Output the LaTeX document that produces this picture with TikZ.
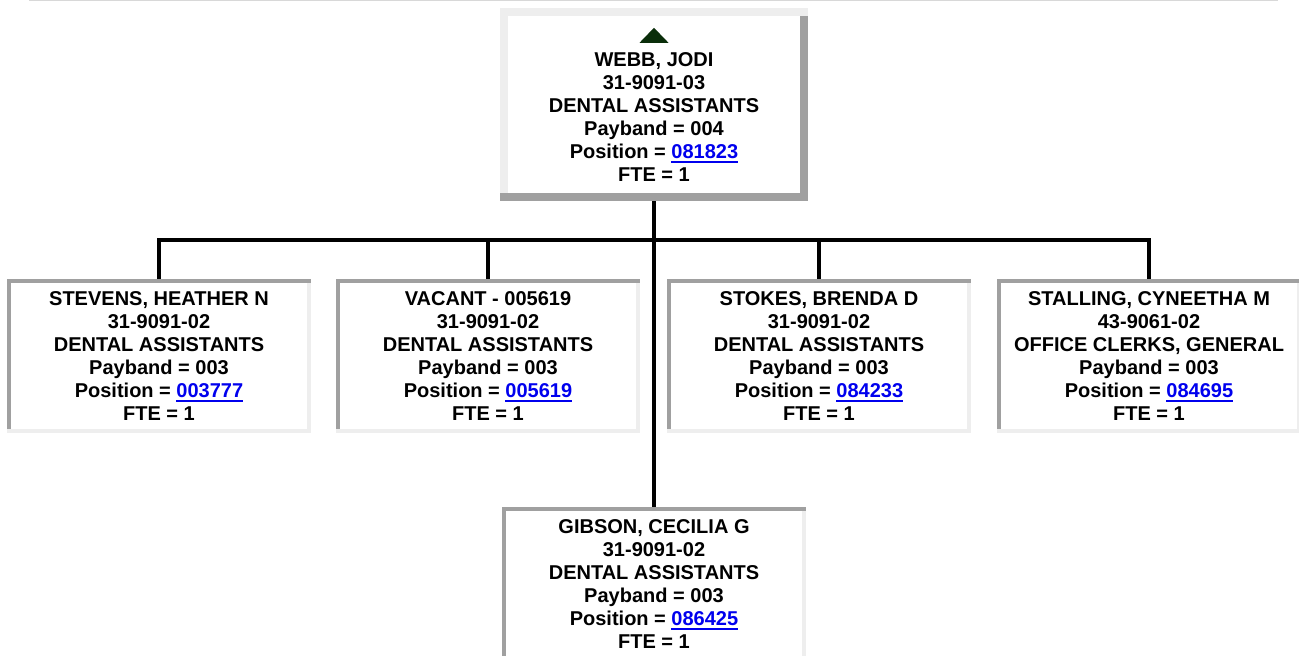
\documentclass[tikz,border=0pt]{standalone}
\usepackage{fontspec}
\setmainfont{Liberation Sans}
\usepackage{xcolor}
\definecolor{edgedark}{HTML}{A0A0A0}
\definecolor{edgelight}{HTML}{EEEEEE}
\definecolor{linkblue}{HTML}{0000EE}
\definecolor{upgreen}{HTML}{0A2E0A}

% position number as an underlined link
\newcommand\poslink[1]{{\color{linkblue}\setbox0\hbox{#1}\rlap{\rule[-4.6pt]{\wd0}{2pt}}\box0}}
% bevelled border: #1/#2 top-left colour and width, #3/#4 bottom-right colour and width
\newcommand\boxedges[4]{%
  \fill[#3] (path picture bounding box.south west) rectangle (path picture bounding box.north east);
  \fill[#1] (path picture bounding box.north west) rectangle ([yshift=-#2]path picture bounding box.north east);
  \fill[#1] (path picture bounding box.north west) rectangle ([shift={(#2,#4)}]path picture bounding box.south west);
  \fill[white] ([shift={(#2,-#2)}]path picture bounding box.north west) rectangle ([shift={(-#4,#4)}]path picture bounding box.south east);
}

\tikzset{
  card/.style={fill=white, inner sep=0pt, align=center,
    font=\fontsize{20pt}{23pt}\selectfont\bfseries},
  headbox/.style={card, minimum width=308pt, minimum height=193pt,
    path picture={\boxedges{edgelight}{8pt}{edgedark}{8pt}}},
  staffbox/.style={card, minimum width=304pt, minimum height=154pt,
    path picture={\boxedges{edgedark}{4pt}{edgelight}{4pt}}},
  link/.style={line width=4pt, black}
}

\begin{document}
\begin{tikzpicture}[x=1pt, y=-1pt]
  \useasboundingbox (0,0) rectangle (1299,656);
  % rule along the top
  \draw[edgelight!80!gray, line width=1pt] (29,0.5) -- (1278,0.5);

  % manager
  \node[headbox] (webb) at (654,104.5)
    {\rule{0pt}{15pt}\\WEBB, JODI\\31-9091-03\\DENTAL ASSISTANTS\\Payband = 004\\Position = \poslink{081823}\\FTE = 1};
  \fill[upgreen] ([shift={(-14.5pt,-35pt)}]webb.north) -- ([shift={(14.5pt,-35pt)}]webb.north)
    -- ([yshift=-20pt]webb.north) -- cycle;

  % staff
  \node[staffbox] (stevens) at (159,356)
    {STEVENS, HEATHER N\\31-9091-02\\DENTAL ASSISTANTS\\Payband = 003\\Position = \poslink{003777}\\FTE = 1};
  \node[staffbox] (vacant) at (488,356)
    {VACANT - 005619\\31-9091-02\\DENTAL ASSISTANTS\\Payband = 003\\Position = \poslink{005619}\\FTE = 1};
  \node[staffbox] (stokes) at (819,356)
    {STOKES, BRENDA D\\31-9091-02\\DENTAL ASSISTANTS\\Payband = 003\\Position = \poslink{084233}\\FTE = 1};
  \node[staffbox] (stalling) at (1149,356)
    {STALLING, CYNEETHA M\\43-9061-02\\OFFICE CLERKS, GENERAL\\Payband = 003\\Position = \poslink{084695}\\FTE = 1};
  \node[staffbox] (gibson) at (654,584)
    {GIBSON, CECILIA G\\31-9091-02\\DENTAL ASSISTANTS\\Payband = 003\\Position = \poslink{086425}\\FTE = 1};

  % reporting lines
  \coordinate (bus) at (654,240);
  \draw[link] (webb.south) -- (gibson.north);
  \foreach \n in {stevens,vacant,stokes,stalling}
    \draw[link] (bus) -| (\n.north);
\end{tikzpicture}
\end{document}
